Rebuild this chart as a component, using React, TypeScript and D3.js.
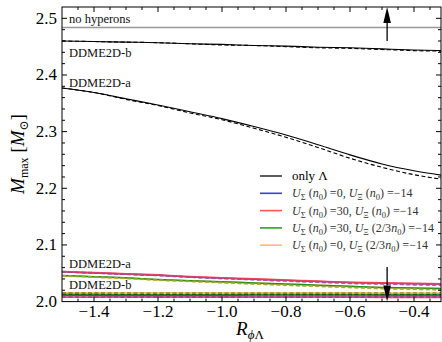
import React, { useRef, useEffect } from "react";
import * as d3 from "d3";

// x values (R_phiLambda)
const rPhi = [-1.5, -1.4, -1.3, -1.2, -1.1, -1.0, -0.9, -0.8, -0.7, -0.6, -0.5, -0.4, -0.3];

// only Lambda (black), DDME2D-b
const lamB = [2.46, 2.459, 2.458, 2.457, 2.455, 2.454, 2.452, 2.451, 2.449, 2.448, 2.446, 2.444, 2.443];
const lamBDash = [2.46, 2.459, 2.458, 2.457, 2.455, 2.453, 2.452, 2.45, 2.448, 2.447, 2.445, 2.443, 2.442];
// only Lambda (black), DDME2D-a
const lamA = [2.377, 2.369, 2.358, 2.347, 2.335, 2.323, 2.309, 2.294, 2.277, 2.259, 2.243, 2.231, 2.222];
const lamADash = [2.377, 2.369, 2.357, 2.346, 2.333, 2.321, 2.306, 2.29, 2.272, 2.253, 2.237, 2.224, 2.215];

// DDME2D-a with Sigma/Xi potentials
const blueA = [2.0525, 2.0505, 2.0485, 2.0465, 2.0435, 2.0415, 2.0395, 2.0375, 2.0355, 2.0335, 2.0325, 2.0315, 2.0305];
const redA = [2.053, 2.051, 2.049, 2.047, 2.044, 2.042, 2.04, 2.038, 2.036, 2.034, 2.033, 2.032, 2.031];
const blueADash = [2.0525, 2.0503, 2.048, 2.046, 2.043, 2.0405, 2.0385, 2.036, 2.034, 2.032, 2.031, 2.0295, 2.0285];
const redADash = [2.053, 2.0508, 2.0485, 2.0462, 2.0432, 2.041, 2.0388, 2.0365, 2.0345, 2.0325, 2.0313, 2.0302, 2.029];
const greenA = [2.046, 2.044, 2.042, 2.039, 2.037, 2.035, 2.033, 2.031, 2.029, 2.027, 2.025, 2.024, 2.023];
const orangeA = [2.0455, 2.0435, 2.0415, 2.0385, 2.0365, 2.0345, 2.0325, 2.0305, 2.0285, 2.0265, 2.0245, 2.0235, 2.0225];
const greenADash = [2.0455, 2.0432, 2.041, 2.038, 2.0358, 2.0335, 2.0312, 2.029, 2.027, 2.025, 2.023, 2.0218, 2.0208];
const orangeADash = [2.0455, 2.043, 2.0408, 2.0378, 2.0355, 2.0332, 2.031, 2.0288, 2.0268, 2.0248, 2.0228, 2.0215, 2.0205];

// DDME2D-b with Sigma/Xi potentials (nearly flat)
const orangeB = [2.0156, 2.0156, 2.0155, 2.0155, 2.0155, 2.0155, 2.0154, 2.0154, 2.0154, 2.0154, 2.0153, 2.0153, 2.0153];
const greenB = [2.0127, 2.0127, 2.0126, 2.0126, 2.0126, 2.0126, 2.0125, 2.0125, 2.0125, 2.0125, 2.0124, 2.0124, 2.0124];
const blueB = [2.0102, 2.0102, 2.0101, 2.0101, 2.0101, 2.0101, 2.01, 2.01, 2.01, 2.01, 2.0099, 2.0099, 2.0099];
const redB = [2.0078, 2.0078, 2.0077, 2.0077, 2.0077, 2.0077, 2.0076, 2.0076, 2.0076, 2.0076, 2.0075, 2.0075, 2.0075];

const noHyperons = 2.484;
const arrowX = -0.484;
const arrowUp = [2.46, 2.52];
const arrowDown = [2.061, 2.0];

const xTicks = [-1.4, -1.2, -1.0, -0.8, -0.6, -0.4];
const yTicks = [2.0, 2.1, 2.2, 2.3, 2.4, 2.5];

const BLUE = "#1c1cd6";
const RED = "#ff3a3a";
const GREEN = "#0a8a0a";
const ORANGE = "#ffb347";

type Part = { t: string; sub?: boolean; it?: boolean };

const legendItems: { color: string; parts: Part[] }[] = [
  { color: "#000", parts: [{ t: "only Λ" }] },
  {
    color: BLUE,
    parts: [
      { t: "U", it: true }, { t: "Σ", sub: true }, { t: " (" }, { t: "n", it: true }, { t: "0", sub: true },
      { t: ") =0, " }, { t: "U", it: true }, { t: "Ξ", sub: true }, { t: " (" }, { t: "n", it: true },
      { t: "0", sub: true }, { t: ") =−14" },
    ],
  },
  {
    color: RED,
    parts: [
      { t: "U", it: true }, { t: "Σ", sub: true }, { t: " (" }, { t: "n", it: true }, { t: "0", sub: true },
      { t: ") =30, " }, { t: "U", it: true }, { t: "Ξ", sub: true }, { t: " (" }, { t: "n", it: true },
      { t: "0", sub: true }, { t: ") =−14" },
    ],
  },
  {
    color: GREEN,
    parts: [
      { t: "U", it: true }, { t: "Σ", sub: true }, { t: " (" }, { t: "n", it: true }, { t: "0", sub: true },
      { t: ") =30, " }, { t: "U", it: true }, { t: "Ξ", sub: true }, { t: " (2/3" }, { t: "n", it: true },
      { t: "0", sub: true }, { t: ") =−14" },
    ],
  },
  {
    color: ORANGE,
    parts: [
      { t: "U", it: true }, { t: "Σ", sub: true }, { t: " (" }, { t: "n", it: true }, { t: "0", sub: true },
      { t: ") =0, " }, { t: "U", it: true }, { t: "Ξ", sub: true }, { t: " (2/3" }, { t: "n", it: true },
      { t: "0", sub: true }, { t: ") =−14" },
    ],
  },
];

const FONT = "'Liberation Serif', 'DejaVu Serif', serif";

function mathText(sel: any, parts: Part[], subSize: number, shift: number) {
  let cur = 0;
  parts.forEach((p) => {
    const target = p.sub ? shift : 0;
    sel
      .append("tspan")
      .attr("dy", target - cur)
      .attr("font-size", p.sub ? subSize : null)
      .attr("font-style", p.it ? "italic" : "normal")
      .text(p.t);
    cur = target;
  });
}

export default function App() {
  const svgRef = useRef<SVGSVGElement>(null);

  useEffect(() => {
    const svg = d3.select(svgRef.current);
    svg.selectAll("*").remove();

    const left = 62, right = 441, top = 7, bottom = 301.6;
    const x = d3.scaleLinear().domain([-1.5, -1.5 + (right - left) / 320]).range([left, right]);
    const y = d3.scaleLinear().domain([2.0, 2.52]).range([bottom, top]);

    svg.append("rect").attr("width", 442).attr("height", 342).attr("fill", "#fff");

    svg
      .append("defs")
      .append("clipPath")
      .attr("id", "plot-clip")
      .append("rect")
      .attr("x", left)
      .attr("y", top)
      .attr("width", right - left)
      .attr("height", bottom - top);

    const g = svg.append("g").attr("clip-path", "url(#plot-clip)");

    const line = (vals: number[]) =>
      d3
        .line<number>()
        .x((_, i) => x(rPhi[i]))
        .y((d) => y(d))
        .curve(d3.curveMonotoneX)(vals);

    const draw = (vals: number[], color: string, width: number, dashed = false, opacity = 1) =>
      g
        .append("path")
        .attr("d", line(vals))
        .attr("fill", "none")
        .attr("stroke", color)
        .attr("stroke-width", width)
        .attr("stroke-opacity", opacity)
        .attr("stroke-dasharray", dashed ? "4,2.5" : null);

    // no hyperons reference line
    g.append("line")
      .attr("x1", left)
      .attr("x2", right)
      .attr("y1", y(noHyperons))
      .attr("y2", y(noHyperons))
      .attr("stroke", "#999")
      .attr("stroke-width", 1.5);

    // only Lambda
    draw(lamB, "#000", 1.1);
    draw(lamBDash, "#000", 1.1, true);
    draw(lamA, "#000", 1.1);
    draw(lamADash, "#000", 1.1, true);

    // DDME2D-a colored
    draw(orangeA, ORANGE, 1.8, false, 0.8);
    draw(greenA, GREEN, 1.5, false, 0.9);
    draw(blueA, BLUE, 1.5, false, 0.8);
    draw(redA, RED, 1.8, false, 0.9);
    draw(orangeADash, ORANGE, 1.8, true, 0.7);
    draw(greenADash, "#7aa82a", 1.5, true, 0.8);
    draw(blueADash, BLUE, 1.5, true, 0.5);
    draw(redADash, "#d04a8a", 1.8, true, 0.7);

    // DDME2D-b colored
    draw(orangeB, ORANGE, 1.6, false, 0.9);
    draw(greenB, GREEN, 1.6, false, 0.9);
    draw(blueB, BLUE, 1.6, false, 0.8);
    draw(redB, RED, 1.6, false, 0.9);
    draw(orangeB, "#5a7a20", 1.3, true, 0.7);
    draw(greenB, "#103a10", 1.3, true, 0.7);
    draw(blueB, "#9a3aa0", 1.3, true, 0.7);
    draw(redB, "#c02060", 1.3, true, 0.7);

    // arrows
    const arrow = (y0: number, y1: number) => {
      const ax = x(arrowX);
      const p0 = y(y0), p1 = y(y1);
      const dir = p1 < p0 ? -1 : 1;
      const headLen = 16, headW = 3.8;
      g.append("line")
        .attr("x1", ax)
        .attr("x2", ax)
        .attr("y1", p0)
        .attr("y2", p1 - dir * headLen)
        .attr("stroke", "#000")
        .attr("stroke-width", 1.3);
      g.append("path")
        .attr(
          "d",
          `M${ax},${p1} L${ax - headW},${p1 - dir * headLen} L${ax + headW},${p1 - dir * headLen} Z`
        )
        .attr("fill", "#000");
    };
    arrow(arrowUp[0], arrowUp[1]);
    arrow(arrowDown[0], arrowDown[1]);

    // in-plot labels
    const label = (tx: number, ty: number, s: string) =>
      svg
        .append("text")
        .attr("x", tx)
        .attr("y", ty)
        .attr("font-family", FONT)
        .attr("font-size", 12.5)
        .attr("fill", "#111")
        .text(s);
    label(69, 22.5, "no hyperons");
    label(69, 56.5, "DDME2D-b");
    label(69, 86.5, "DDME2D-a");
    label(69, 268, "DDME2D-a");
    label(69, 289, "DDME2D-b");

    // legend
    legendItems.forEach((item, i) => {
      const ly = 176 + i * 17.3;
      svg
        .append("line")
        .attr("x1", 260)
        .attr("x2", 282)
        .attr("y1", ly)
        .attr("y2", ly)
        .attr("stroke", item.color)
        .attr("stroke-width", 1.6)
        .attr("stroke-opacity", i === 0 ? 0.8 : 0.85);
      const t = svg
        .append("text")
        .attr("x", 292)
        .attr("y", ly + 4)
        .attr("font-family", FONT)
        .attr("font-size", i === 0 ? 13 : 12)
        .attr("fill", i === 0 ? "#000" : "#333")
        .style("white-space", "pre");
      mathText(t, item.parts, 8.5, 3);
    });

    // axes
    const ax = svg.append("g").attr("stroke", "#000").attr("fill", "none");
    ax.append("rect")
      .attr("x", left)
      .attr("y", top)
      .attr("width", right - left)
      .attr("height", bottom - top)
      .attr("stroke-width", 1);

    const xMinor = d3.range(-1.45, -0.3, 0.05).filter((v) => x(v) < right - 1);
    const yMinor = d3.range(2.02, 2.52, 0.02);

    xMinor.forEach((v) => {
      const major = xTicks.some((t) => Math.abs(t - v) < 1e-6);
      const len = major ? 5 : 3;
      ax.append("line").attr("x1", x(v)).attr("x2", x(v)).attr("y1", bottom).attr("y2", bottom - len);
      ax.append("line").attr("x1", x(v)).attr("x2", x(v)).attr("y1", top).attr("y2", top + len);
    });
    yMinor.forEach((v) => {
      const major = yTicks.some((t) => Math.abs(t - v) < 1e-6);
      const len = major ? 5 : 3;
      ax.append("line").attr("x1", left).attr("x2", left + len).attr("y1", y(v)).attr("y2", y(v));
      ax.append("line").attr("x1", right).attr("x2", right - len).attr("y1", y(v)).attr("y2", y(v));
    });

    const fmt = d3.format(".1f");
    xTicks.forEach((v) => {
      svg
        .append("text")
        .attr("x", x(v))
        .attr("y", 317)
        .attr("text-anchor", "middle")
        .attr("font-family", FONT)
        .attr("font-size", 17)
        .text(fmt(v).replace("-", "−"));
    });
    yTicks.forEach((v) => {
      svg
        .append("text")
        .attr("x", 57)
        .attr("y", y(v) + 5.5)
        .attr("text-anchor", "end")
        .attr("font-family", FONT)
        .attr("font-size", 17)
        .text(fmt(v));
    });

    // axis titles
    const xt = svg
      .append("text")
      .attr("x", 250)
      .attr("y", 335)
      .attr("text-anchor", "middle")
      .attr("font-family", FONT)
      .attr("font-size", 19);
    mathText(
      xt,
      [{ t: "R", it: true }, { t: "ϕ", sub: true, it: true }, { t: "Λ", sub: true }],
      13,
      4
    );

    const yt = svg
      .append("text")
      .attr("transform", "translate(24,154) rotate(-90)")
      .attr("text-anchor", "middle")
      .attr("font-family", FONT)
      .attr("font-size", 19)
      .style("white-space", "pre");
    mathText(
      yt,
      [{ t: "M", it: true }, { t: "max", sub: true }, { t: " [" }, { t: "M", it: true }, { t: "⊙", sub: true }, { t: "]" }],
      12,
      4
    );
  }, []);

  return (
    <svg
      ref={svgRef}
      width={442}
      height={342}
      style={{ position: "absolute", left: 0, top: 0, display: "block" }}
    />
  );
}
